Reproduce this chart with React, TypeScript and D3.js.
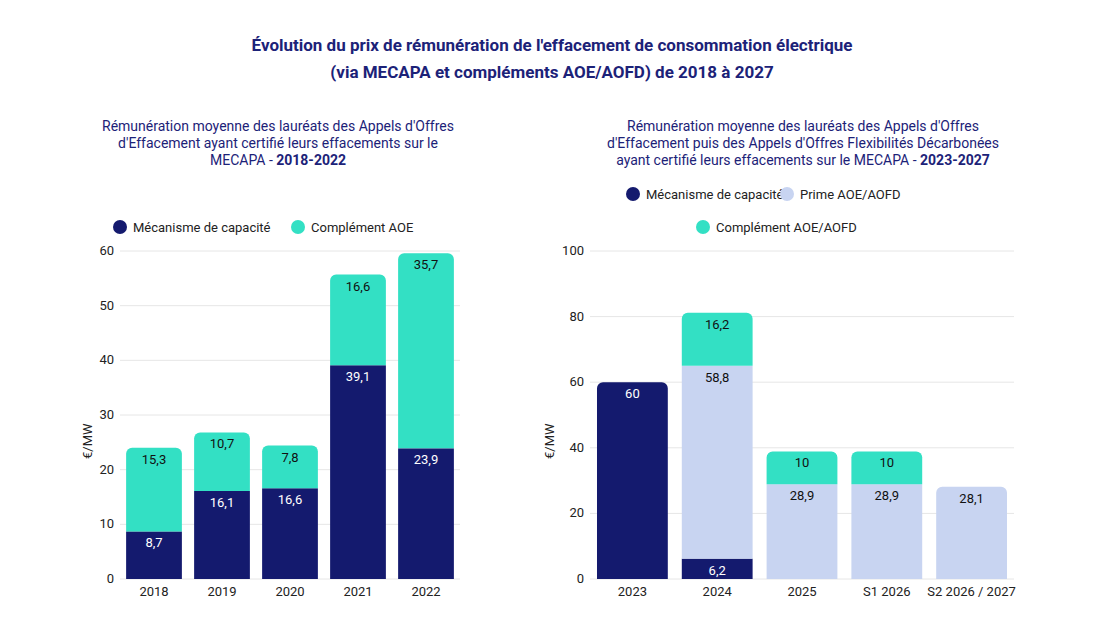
import * as d3 from "d3";

const leftCats = ["2018", "2019", "2020", "2021", "2022"];
const leftMeca = [8.7, 16.1, 16.6, 39.1, 23.9];
const leftAoe = [15.3, 10.7, 7.8, 16.6, 35.7];
const leftTicks = [0, 10, 20, 30, 40, 50, 60];

const rightCats = ["2023", "2024", "2025", "S1 2026", "S2 2026 / 2027"];
const rightMeca = [60, 6.2, 0, 0, 0];
const rightPrime = [0, 58.8, 28.9, 28.9, 28.1];
const rightCompl = [0, 16.2, 10, 10, 0];
const rightTicks = [0, 20, 40, 60, 80, 100];

const NAVY = "#141a6e";
const TEAL = "#33e0c4";
const LIGHT = "#c8d4f1";
const TITLE = "#1c2278";
const FONT = "Roboto, sans-serif";

const fmt = (v: number) => String(v).replace(".", ",");

function topRounded(x: number, y: number, w: number, h: number, r: number) {
  const p = d3.path();
  p.moveTo(x, y + h);
  p.lineTo(x, y + r);
  p.arcTo(x, y, x + r, y, r);
  p.lineTo(x + w - r, y);
  p.arcTo(x + w, y, x + w, y + r, r);
  p.lineTo(x + w, y + h);
  p.closePath();
  return p.toString();
}

type Series = { values: number[]; color: string; text: string };

function Panel({ cats, series, ticks, xr, yMax, ylabelX, pad }: {
  cats: string[]; series: Series[]; ticks: number[]; xr: [number, number];
  yMax: number; ylabelX: number; pad: number;
}) {
  const y = d3.scaleLinear().domain([0, yMax]).range([579, 251]);
  const x = d3.scaleBand().domain(cats).range(xr).paddingInner(pad).paddingOuter(pad / 2);
  return (
    <g fontFamily={FONT}>
      {ticks.map((t) => (
        <g key={t}>
          <line x1={xr[0]} x2={xr[1]} y1={y(t)} y2={y(t)} stroke="#e6e6e6" />
          <text x={xr[0] - 6} y={y(t) + 4} textAnchor="end" fontSize={13} fill="#222">{t}</text>
        </g>
      ))}
      <text transform={`translate(${ylabelX},${y(yMax * 0.42)}) rotate(-90)`} textAnchor="middle" fontSize={13} fill="#222">€/MW</text>
      {cats.map((c, i) => {
        let acc = 0;
        const segs = series.map((s) => {
          const v = s.values[i];
          const seg = { v, y0: acc, y1: acc + v, s };
          acc += v;
          return seg;
        }).filter((d) => d.v > 0);
        const bx = x(c)!;
        const bw = x.bandwidth();
        return (
          <g key={c}>
            {segs.map((d, j) => {
              const top = y(d.y1), h = y(d.y0) - y(d.y1);
              const last = j === segs.length - 1;
              return (
                <g key={j}>
                  {last ? <path d={topRounded(bx, top, bw, h, 6)} fill={d.s.color} />
                    : <rect x={bx} y={top} width={bw} height={h} fill={d.s.color} />}
                  <text x={bx + bw / 2} y={top + 16} textAnchor="middle" fontSize={13} fill={d.s.text}>{fmt(d.v)}</text>
                </g>
              );
            })}
            <text x={bx + bw / 2} y={596} textAnchor="middle" fontSize={13} fill="#222">{c}</text>
          </g>
        );
      })}
    </g>
  );
}

function Legend({ x, y, color, label }: { x: number; y: number; color: string; label: string }) {
  return (
    <g fontFamily={FONT}>
      <circle cx={x} cy={y} r={7} fill={color} />
      <text x={x + 13} y={y + 4.5} fontSize={13} fill="#222">{label}</text>
    </g>
  );
}

export default function App() {
  return (
    <svg width={1100} height={619} style={{ position: "absolute", left: 0, top: 0, background: "#fff" }}>
      <g fontFamily={FONT} fill={TITLE} textAnchor="middle">
        <text x={552} y={51} fontSize={17} fontWeight="bold">Évolution du prix de rémunération de l'effacement de consommation électrique</text>
        <text x={552} y={78} fontSize={17} fontWeight="bold">(via MECAPA et compléments AOE/AOFD) de 2018 à 2027</text>
        <text x={278} y={131} fontSize={14}>Rémunération moyenne des lauréats des Appels d'Offres</text>
        <text x={278} y={148} fontSize={14}>d'Effacement ayant certifié leurs effacements sur le</text>
        <text x={278} y={165} fontSize={14}>MECAPA - <tspan fontWeight="bold">2018-2022</tspan></text>
        <text x={803} y={131} fontSize={14}>Rémunération moyenne des lauréats des Appels d'Offres</text>
        <text x={803} y={148} fontSize={14}>d'Effacement puis des Appels d'Offres Flexibilités Décarbonées</text>
        <text x={803} y={165} fontSize={14}>ayant certifié leurs effacements sur le MECAPA - <tspan fontWeight="bold">2023-2027</tspan></text>
      </g>
      <Legend x={120} y={227} color={NAVY} label="Mécanisme de capacité" />
      <Legend x={298} y={227} color={TEAL} label="Complément AOE" />
      <Legend x={633} y={194} color={NAVY} label="Mécanisme de capacité" />
      <Legend x={787} y={194} color={LIGHT} label="Prime AOE/AOFD" />
      <Legend x={703} y={227} color={TEAL} label="Complément AOE/AOFD" />
      <Panel cats={leftCats} ticks={leftTicks} xr={[120, 460]} yMax={60} ylabelX={92} pad={0.18}
        series={[{ values: leftMeca, color: NAVY, text: "#fff" }, { values: leftAoe, color: TEAL, text: "#111" }]} />
      <Panel cats={rightCats} ticks={rightTicks} xr={[590, 1014]} yMax={100} ylabelX={554} pad={0.165}
        series={[{ values: rightMeca, color: NAVY, text: "#fff" }, { values: rightPrime, color: LIGHT, text: "#111" }, { values: rightCompl, color: TEAL, text: "#111" }]} />
    </svg>
  );
}
